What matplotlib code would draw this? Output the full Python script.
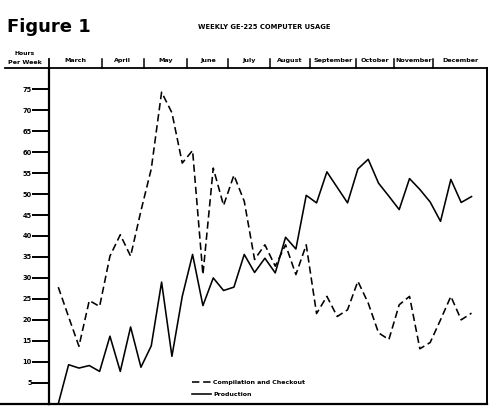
import matplotlib
matplotlib.use("Agg")
import matplotlib.pyplot as plt
from matplotlib.lines import Line2D
from matplotlib.transforms import blended_transform_factory

# ---------------- data ----------------
weeks = list(range(41))  # weekly points, March .. December
compilation = [27.8, 20.7, 13.7, 24.6, 23.2, 35.2, 40.3, 35.2, 46.0, 56.0,
               74.3, 69.4, 57.4, 60.4, 30.8, 56.2, 47.3, 54.5, 48.3, 34.4,
               37.9, 32.8, 37.9, 30.8, 37.9, 21.5, 25.6, 20.8, 22.4, 29.2,
               24.0, 16.9, 15.3, 23.6, 25.6, 13.1, 14.6, 20.0, 25.6, 20.0,
               21.6]
production = [0.0, 9.3, 8.5, 9.1, 7.7, 16.1, 7.7, 18.3, 8.7, 13.8,
              29.0, 11.3, 25.6, 35.6, 23.4, 30.0, 27.0, 27.8, 35.6, 31.3,
              34.7, 31.2, 39.7, 36.9, 49.7, 47.9, 55.3, 51.6, 47.9, 56.0,
              58.3, 52.6, 49.5, 46.3, 53.7, 51.1, 48.1, 43.5, 53.5, 48.0,
              49.4]
months = ["March", "April", "May", "June", "July", "August",
          "September", "October", "November", "December"]
# month boundaries expressed in week units
month_edges = [-0.87, 4.2, 8.3, 12.5, 16.45, 20.5, 24.4, 28.8, 32.5, 36.3, 41.47]
yticks = list(range(5, 80, 5))
series_labels = ["Compilation and Checkout", "Production"]

W, H = 498, 408
fig = plt.figure(figsize=(W / 100, H / 100), dpi=100)
plt.rcParams['font.family'] = ['DejaVu Sans']

def fx(x):
    return x / W

def fy(y):
    return 1 - y / H

left_px, right_px, top_px, bot_px = 49.3, 486.7, 68.3, 403.7
ax = fig.add_axes([fx(left_px), fy(bot_px), fx(right_px) - fx(left_px),
                   fy(top_px) - fy(bot_px)])

ax.plot(weeks, compilation, color="black", lw=1.15, ls=(0, (4.6, 2.4)),
        label=series_labels[0])
ax.plot(weeks, production, color="black", lw=1.15, ls="-",
        label=series_labels[1])

ax.set_xlim(month_edges[0], month_edges[-1])
ax.set_ylim(0, 80)
ax.set_xticks([])
ax.set_yticks(yticks)
ax.set_yticklabels([str(v) for v in yticks], fontsize=4.8, fontweight="bold")
ax.tick_params(axis="y", direction="out", length=12, width=1.4, pad=0.6)

for s in ["left", "bottom"]:
    ax.spines[s].set_linewidth(1.6)
ax.spines["right"].set_linewidth(1.4)
ax.spines["top"].set_linewidth(1.3)

# header
trans = blended_transform_factory(ax.transData, ax.transAxes)
for i, m in enumerate(months):
    cx = (month_edges[i] + month_edges[i + 1]) / 2
    ax.text(cx, 1.022, m, transform=trans, ha="center", va="center",
            fontsize=4.6, fontweight="bold", clip_on=False)
for e in month_edges[1:-1]:
    ax.add_line(Line2D([e, e], [1.0, 1.027], transform=trans, color="black",
                       lw=1.1, clip_on=False))

# extend header line, left axis and bottom line
fig.add_artist(Line2D([fx(5), fx(left_px)], [fy(top_px), fy(top_px)],
                      color="black", lw=1.3))
fig.add_artist(Line2D([fx(left_px), fx(left_px)], [fy(top_px), fy(59)],
                      color="black", lw=1.3))
fig.add_artist(Line2D([fx(0), fx(left_px)], [fy(bot_px), fy(bot_px)],
                      color="black", lw=1.6))

fig.text(fx(25), fy(53.5), "Hours", ha="center", va="center", fontsize=4.4,
         fontweight="bold")
fig.text(fx(25), fy(62), "Per Week", ha="center", va="center", fontsize=4.6,
         fontweight="bold")

fig.text(fx(7), fy(27), "Figure 1", ha="left", va="center", fontsize=13,
         fontweight="bold")
fig.text(fx(264), fy(27), "WEEKLY GE-225 COMPUTER USAGE", ha="center",
         va="center", fontsize=4.9, fontweight="bold")

leg = ax.legend(loc="upper left", bbox_to_anchor=(fx(192), fy(380)),
                bbox_transform=fig.transFigure, frameon=False,
                prop={"size": 4.5, "weight": "bold"}, handlelength=3.0,
                handletextpad=0.4, labelspacing=1.0, borderpad=0,
                borderaxespad=0)

fig.savefig("out.png", dpi=100)
